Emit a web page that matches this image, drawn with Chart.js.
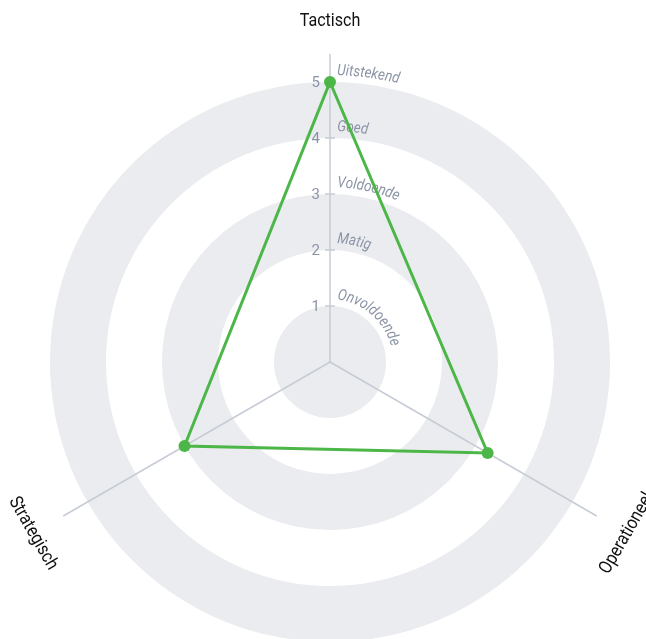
<!DOCTYPE html>
<html>
<head>
<meta charset="utf-8">
<script src="https://cdn.jsdelivr.net/npm/chart.js@4.4.1/dist/chart.umd.min.js"></script>
<style>
    html, body { margin: 0; padding: 0; background: #fff; overflow: hidden; }
    canvas { display: block; }
</style>
</head>
<body>
<canvas id="radar" width="660" height="700"></canvas>
<script>
const axisLabels = ["Tactisch", "Operationeel", "Strategisch"];
const scores = [5, 3.25, 3];
const levelValues = [1, 2, 3, 4, 5];
const levelNames = ["Onvoldoende", "Matig", "Voldoende", "Goed", "Uitstekend"];
const bandRanges = [[0, 1], [2, 3], [4, 5]];
const scaleMax = 5.5;

const GREEN = "#4cb748";
const BAND = "#ebecef";
const AXIS = "#c6ccd6";
const MUTED = "#8b94a6";
// no condensed face installed, so squeeze Roboto a bit
const SQUEEZE = 0.87;

const bandsPlugin = {
    id: "bands",
    beforeDraw(chart) {
        const scale = chart.scales.r;
        const ctx = chart.ctx;
        const cx = scale.xCenter;
        const cy = scale.yCenter;
        ctx.save();
        ctx.fillStyle = BAND;
        bandRanges.forEach(([from, to]) => {
            const r0 = scale.getDistanceFromCenterForValue(from);
            const r1 = scale.getDistanceFromCenterForValue(to);
            ctx.beginPath();
            ctx.arc(cx, cy, r1, 0, Math.PI * 2);
            if (r0 > 0) {
                ctx.moveTo(cx + r0, cy);
                ctx.arc(cx, cy, r0, 0, Math.PI * 2);
            }
            ctx.fill("evenodd");
        });
        ctx.restore();
    }
};

// letters placed one by one along a circle, clockwise from the top axis
const drawArcText = (ctx, text, cx, cy, radius, startOffset) => {
    let pos = startOffset;
    for (const ch of text) {
        const w = ctx.measureText(ch).width * SQUEEZE;
        const angle = (pos + w / 2) / radius;
        ctx.save();
        ctx.translate(cx + radius * Math.sin(angle), cy - radius * Math.cos(angle));
        ctx.rotate(angle);
        ctx.scale(SQUEEZE, 1);
        ctx.fillText(ch, 0, 0);
        ctx.restore();
        pos += w;
    }
};

const labelsPlugin = {
    id: "labels",
    beforeDatasetsDraw(chart) {
        const scale = chart.scales.r;
        const ctx = chart.ctx;
        const cx = scale.xCenter;
        const cy = scale.yCenter;
        ctx.save();

        // tick marks on the vertical axis
        ctx.strokeStyle = AXIS;
        ctx.lineWidth = 1.5;
        levelValues.forEach(v => {
            const y = cy - scale.getDistanceFromCenterForValue(v);
            ctx.beginPath();
            ctx.moveTo(cx - 5, y);
            ctx.lineTo(cx + 5, y);
            ctx.stroke();
        });

        // numbers
        ctx.fillStyle = MUTED;
        ctx.font = "15px Roboto";
        ctx.textAlign = "right";
        ctx.textBaseline = "middle";
        levelValues.forEach(v => {
            const y = cy - scale.getDistanceFromCenterForValue(v);
            ctx.fillText(String(v), cx - 10, y + 1);
        });

        // level names along the rings
        ctx.font = "italic 15.5px Roboto";
        ctx.textAlign = "center";
        ctx.textBaseline = "alphabetic";
        levelValues.forEach((v, i) => {
            const r = scale.getDistanceFromCenterForValue(v) + 7;
            drawArcText(ctx, levelNames[i], cx, cy, r, 7);
        });

        // axis names, turned to follow the circle
        ctx.fillStyle = "#111";
        ctx.font = "18.5px Roboto";
        ctx.textBaseline = "middle";
        axisLabels.forEach((label, i) => {
            const p = scale.getPointPosition(i, scale.drawingArea + 34);
            let rot = p.angle + Math.PI / 2;
            if (rot > Math.PI / 2 && rot < Math.PI * 3 / 2) {
                rot -= Math.PI;
            }
            ctx.save();
            ctx.translate(p.x, p.y);
            ctx.rotate(rot);
            ctx.scale(SQUEEZE, 1);
            ctx.fillText(label, 0, 1);
            ctx.restore();
        });

        ctx.restore();
    }
};

new Chart(document.getElementById("radar"), {
    type: "radar",
    data: {
        labels: axisLabels,
        datasets: [{
            data: scores,
            borderColor: GREEN,
            backgroundColor: "transparent",
            borderWidth: 3,
            fill: false,
            pointRadius: 6,
            pointBackgroundColor: GREEN,
            pointBorderColor: GREEN,
            pointBorderWidth: 0
        }]
    },
    options: {
        responsive: false,
        animation: false,
        layout: {
            padding: { left: 22, right: 22, top: 54, bottom: 30 }
        },
        plugins: {
            legend: { display: false },
            tooltip: { enabled: false }
        },
        scales: {
            r: {
                min: 0,
                max: scaleMax,
                ticks: { display: false, stepSize: 1 },
                grid: { display: false },
                angleLines: { display: true, color: AXIS, lineWidth: 1.5 },
                pointLabels: { display: false }
            }
        }
    },
    plugins: [bandsPlugin, labelsPlugin]
});
</script>
</body>
</html>
